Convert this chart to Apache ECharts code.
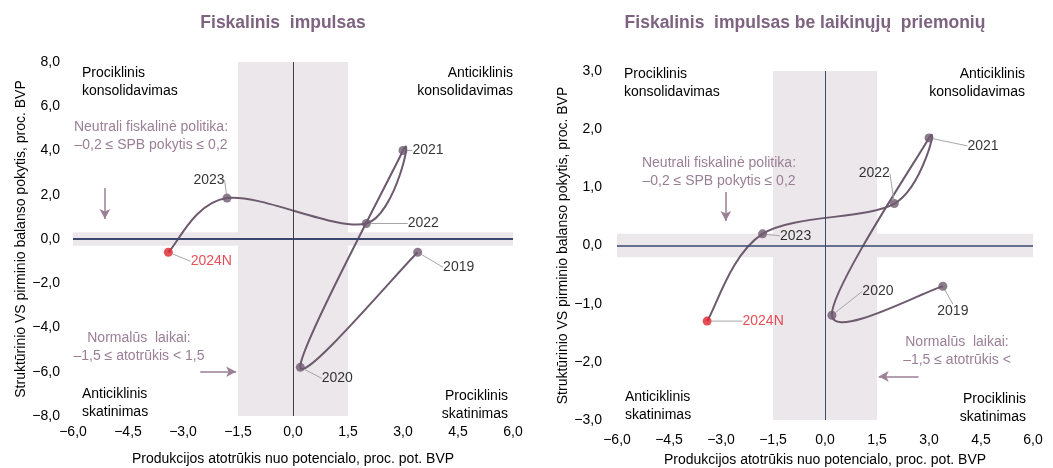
<!DOCTYPE html>
<html>
<head>
<meta charset="utf-8">
<script src="https://cdn.jsdelivr.net/npm/echarts@6/dist/echarts.min.js"></script>
<style>
  html, body { margin: 0; padding: 0; background: #fff; }
  #chart { width: 1053px; height: 468px; }
</style>
</head>
<body>
<div id="chart"></div>
<script>
// metai
const years = ['2019', '2020', '2021', '2022', '2023', '2024N'];
// Fiskalinis impulsas
const gapA = [3.4, 0.2, 3.0, 2.0, -1.8, -3.4];
const spbA = [-0.6, -5.8, 4.0, 0.7, 1.85, -0.6];
// Fiskalinis impulsas be laikinųjų priemonių
const gapB = [3.4, 0.2, 3.0, 2.0, -1.8, -3.4];
const spbB = [-0.7, -1.2, 1.85, 0.72, 0.2, -1.3];

// ašys
const xTicks = [-6, -4.5, -3, -1.5, 0, 1.5, 3, 4.5, 6];
const yTicksA = [-8, -6, -4, -2, 0, 2, 4, 6, 8];
const yTicksB = [-3, -2, -1, 0, 1, 2, 3];
const normalBand = [-1.5, 1.5];
const neutralBandA = [-0.3, 0.3];
const neutralBandB = [-0.2, 0.2];

// etikečių poslinkiai (px)
const offA = [[41, 15], [37, 11], [25, 0], [57, 0], [-18, -18], [43, 9]];
const offB = [[10, 25], [46, -24], [54, 8], [-20, -30], [33, 2], [56, 0]];

const LINE = '#6e5a6e';
const NOTE = '#9a7f95';
const BAND = '#ece7eb';
const NAVY = '#3a4870';
const FONT = 'Liberation Sans, Arial, sans-serif';

const fmt = v => (v < 0 ? '\u2212' : '') + Math.abs(v).toFixed(1).replace('.', ',');

function xAxisOf(grid, margin, nameGap) {
  return {
    type: 'value', gridIndex: grid,
    min: xTicks[0], max: xTicks[xTicks.length - 1], interval: xTicks[1] - xTicks[0],
    axisLine: { show: false }, axisTick: { show: false }, splitLine: { show: false },
    axisLabel: { formatter: fmt, color: '#000', fontSize: 14, fontFamily: FONT, margin: margin },
    name: 'Produkcijos atotrūkis nuo potencialo, proc. pot. BVP',
    nameLocation: 'middle', nameGap: nameGap,
    nameTextStyle: { color: '#000', fontSize: 14, fontFamily: FONT }
  };
}
function yAxisOf(grid, ticks, margin, nameGap) {
  return {
    type: 'value', gridIndex: grid,
    min: ticks[0], max: ticks[ticks.length - 1], interval: ticks[1] - ticks[0],
    axisLine: { show: false }, axisTick: { show: false }, splitLine: { show: false },
    axisLabel: { formatter: fmt, color: '#000', fontSize: 14, fontFamily: FONT, margin: margin },
    name: 'Struktūrinio VS pirminio balanso pokytis, proc. BVP',
    nameLocation: 'middle', nameGap: nameGap,
    nameTextStyle: { color: '#000', fontSize: 14, fontFamily: FONT }
  };
}

// glotni kreivė (Catmull-Rom -> Bezier), skaičiuojama per ašių koordinates
function curveSeries(idx, pts) {
  return {
    type: 'custom', xAxisIndex: idx, yAxisIndex: idx, z: 3, silent: true,
    data: pts,
    renderItem: (params, api) => {
      const i = params.dataIndex;
      if (i >= pts.length - 1) return null;
      const c = pts.map(p => api.coord(p));
      const p0 = c[Math.max(i - 1, 0)], p1 = c[i], p2 = c[i + 1], p3 = c[Math.min(i + 2, c.length - 1)];
      return {
        type: 'bezierCurve',
        shape: {
          x1: p1[0], y1: p1[1], x2: p2[0], y2: p2[1],
          cpx1: p1[0] + (p2[0] - p0[0]) / 6, cpy1: p1[1] + (p2[1] - p0[1]) / 6,
          cpx2: p2[0] - (p3[0] - p1[0]) / 6, cpy2: p2[1] - (p3[1] - p1[1]) / 6
        },
        style: { stroke: LINE, lineWidth: 2, fill: null }
      };
    }
  };
}

function seriesOf(idx, gap, spb, neutral, offs, arrows, hLineW, vLineColor) {
  const pts = gap.map((x, i) => [x, spb[i]]);
  const arrowData = arrows.map(a => [
    { coord: a[0], symbol: 'none', lineStyle: { color: NOTE, width: 1.5, type: 'solid' } },
    { coord: a[1], symbol: 'arrow', symbolSize: [8, 10] }
  ]);
  return [
    curveSeries(idx, pts),
    {
      type: 'scatter', xAxisIndex: idx, yAxisIndex: idx, z: 6,
      data: pts.map((p, i) => ({
        value: p,
        itemStyle: { color: i === 5 ? '#e0222b' : LINE },
        label: { color: i === 5 ? '#e0222b' : '#000' }
      })),
      symbolSize: 9,
      label: {
        show: true, position: 'inside', fontSize: 14, fontFamily: FONT,
        formatter: p => years[p.dataIndex]
      },
      labelLine: { show: true, lineStyle: { color: '#a6a6a6', width: 1 } },
      labelLayout: p => ({ dx: offs[p.dataIndex][0], dy: offs[p.dataIndex][1] }),
      markArea: {
        silent: true,
        itemStyle: { color: BAND },
        data: [
          [{ xAxis: normalBand[0] }, { xAxis: normalBand[1] }],
          [{ yAxis: neutral[0] }, { yAxis: neutral[1] }]
        ]
      },
      markLine: {
        silent: true, symbol: 'none', animation: false,
        label: { show: false },
        data: [
          { yAxis: 0, lineStyle: { color: NAVY, width: hLineW, type: 'solid' } },
          { xAxis: 0, lineStyle: { color: vLineColor, width: 1, type: 'solid' } }
        ].concat(arrowData)
      }
    }
  ];
}

function txt(x, y, text, align, color) {
  return {
    type: 'text', x: x, y: y, silent: true, z: 10,
    style: {
      text: text, fill: color || '#000', font: '14px ' + FONT,
      align: align, verticalAlign: 'top', lineHeight: 18
    }
  };
}

const chart = echarts.init(document.getElementById('chart'));
chart.setOption({
  animation: false,
  title: [
    { text: 'Fiskalinis  impulsas', left: 278, top: 9, textAlign: 'center',
      textStyle: { color: '#7e6380', fontSize: 17.5, fontWeight: 'bold', fontFamily: FONT } },
    { text: 'Fiskalinis  impulsas be laikinųjų  priemonių', left: 800, top: 9, textAlign: 'center',
      textStyle: { color: '#7e6380', fontSize: 17.5, fontWeight: 'bold', fontFamily: FONT } }
  ],
  grid: [
    { left: 73, right: 540, top: 62, bottom: 52, outerBoundsMode: 'none', containLabel: false },
    { left: 617, right: 20, top: 71, bottom: 48, outerBoundsMode: 'none', containLabel: false }
  ],
  xAxis: [xAxisOf(0, 9, 36), xAxisOf(1, 13, 33)],
  yAxis: [yAxisOf(0, yTicksA, 13, 44), yAxisOf(1, yTicksB, 15, 45)],
  series: [].concat(
    seriesOf(0, gapA, spbA, neutralBandA, offA,
      [[[-5.13, 2.3], [-5.13, 0.9]], [[-2.53, -6.0], [-1.55, -6.0]]], 2, '#404040'),
    seriesOf(1, gapB, spbB, neutralBandB, offB,
      [[[-2.86, 0.92], [-2.86, 0.42]], [[2.7, -2.25], [1.55, -2.25]]], 1.5, NAVY)
  ),
  graphic: [
    txt(82, 64, 'Prociklinis\nkonsolidavimas', 'left'),
    txt(513, 64, 'Anticiklinis\nkonsolidavimas', 'right'),
    txt(82, 385, 'Anticiklinis\nskatinimas', 'left'),
    txt(508, 387, 'Prociklinis\nskatinimas', 'right'),
    txt(151, 118, 'Neutrali fiskalinė politika:\n–0,2 ≤ SPB pokytis ≤ 0,2', 'center', NOTE),
    txt(139, 329, 'Normalūs  laikai:\n–1,5 ≤ atotrūkis < 1,5', 'center', NOTE),

    txt(624, 65, 'Prociklinis\nkonsolidavimas', 'left'),
    txt(1025, 65, 'Anticiklinis\nkonsolidavimas', 'right'),
    txt(625, 388, 'Anticiklinis\nskatinimas', 'left'),
    txt(1026, 390, 'Prociklinis\nskatinimas', 'right'),
    txt(719, 154, 'Neutrali fiskalinė politika:\n–0,2 ≤ SPB pokytis ≤ 0,2', 'center', NOTE),
    txt(957, 333, 'Normalūs  laikai:\n–1,5 ≤ atotrūkis <', 'center', NOTE)
  ]
});
</script>
</body>
</html>
